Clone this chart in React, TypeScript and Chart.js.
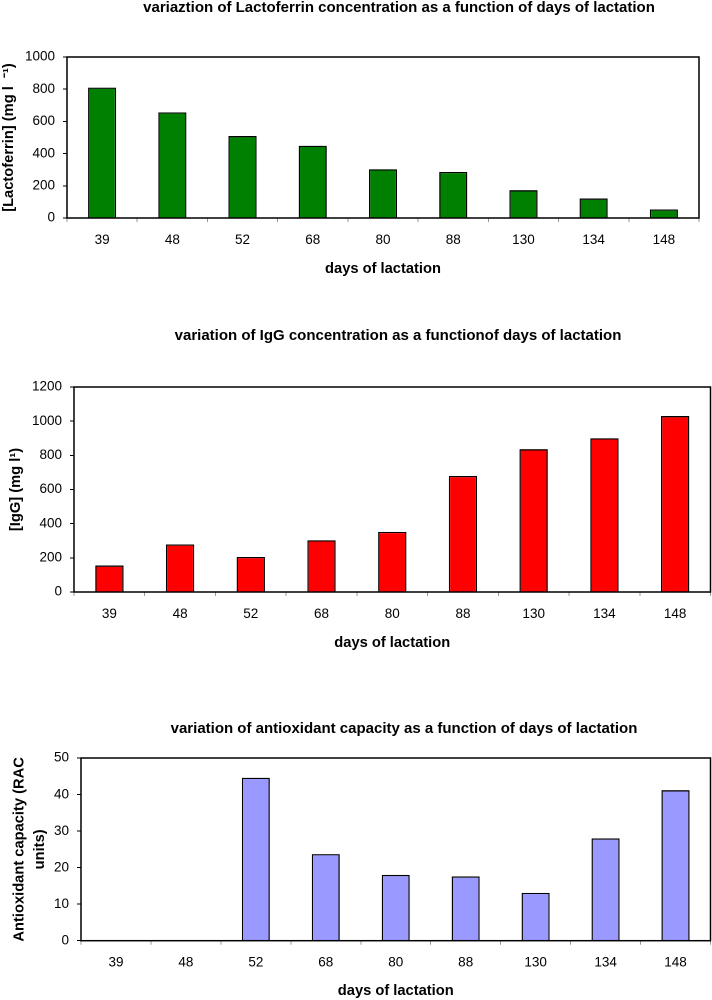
import React, { useEffect, useRef } from "react";
import { Chart, registerables } from "chart.js";

Chart.register(...registerables);

const days = ["39", "48", "52", "68", "80", "88", "130", "134", "148"];
const lactoferrin = [810, 656, 509, 449, 303, 286, 173, 121, 53];
const igg = [155, 278, 205, 303, 352, 679, 836, 900, 1030];
const antioxidant = [0, 0, 44.6, 23.7, 18.0, 17.6, 13.1, 28.0, 41.2];

const FONT = "'Liberation Sans', Arial, Helvetica, sans-serif";

type Cfg = {
  values: number[];
  color: string;
  max: number;
  step: number;
  title: string;
  titleX: number;
  titleY: number;
  yTitle: string | string[];
  yTitlePad: number;
  yTitleLineHeight: number;
  yAxisWidth: number;
  padTop: number;
  padRight: number;
  xAxisHeight: number;
  xTitlePadBottom: number;
  top: number;
  height: number;
};

const framePlugin = {
  id: "frame",
  afterDatasetsDraw(chart: any) {
    const { ctx, chartArea: a } = chart;
    ctx.save();
    ctx.strokeStyle = "#000";
    ctx.lineWidth = 1.5;
    ctx.strokeRect(a.left, a.top, a.right - a.left, a.bottom - a.top);
    ctx.restore();
  },
};

const titlePlugin = {
  id: "placedTitle",
  afterDraw(chart: any, _args: any, opts: any) {
    const { ctx } = chart;
    ctx.save();
    ctx.font = `bold 15px ${FONT}`;
    ctx.fillStyle = "#000";
    ctx.textAlign = "center";
    ctx.textBaseline = "middle";
    ctx.fillText(opts.text, opts.x, opts.y);
    ctx.restore();
  },
};

function BarPanel({ cfg }: { cfg: Cfg }) {
  const ref = useRef<HTMLCanvasElement | null>(null);
  useEffect(() => {
    if (!ref.current) return;
    const chart = new Chart(ref.current, {
      type: "bar",
      data: {
        labels: days,
        datasets: [
          {
            data: cfg.values,
            backgroundColor: cfg.color,
            borderColor: "#000",
            borderWidth: 1.3,
            categoryPercentage: 1,
            barPercentage: 0.4,
          },
        ],
      },
      plugins: [framePlugin, titlePlugin],
      options: {
        animation: false,
        responsive: false,
        devicePixelRatio: 2,
        layout: { padding: { top: cfg.padTop, right: cfg.padRight, left: 0, bottom: 0 } },
        plugins: {
          legend: { display: false },
          tooltip: { enabled: false },
          placedTitle: { text: cfg.title, x: cfg.titleX, y: cfg.titleY },
        } as any,
        scales: {
          x: {
            ticks: { color: "#000", font: { size: 13.5, family: FONT }, padding: 10 },
            grid: { display: true, drawOnChartArea: false, tickLength: 4, color: "#999", offset: true },
            border: { display: false },
            title: {
              display: true,
              text: "days of lactation",
              color: "#000",
              font: { size: 14.7, weight: "bold", family: FONT },
              padding: { top: 0, bottom: cfg.xTitlePadBottom },
            },
            afterFit(scale: any) {
              scale.height = cfg.xAxisHeight;
            },
          },
          y: {
            min: 0,
            max: cfg.max,
            ticks: {
              stepSize: cfg.step,
              color: "#000",
              font: { size: 13.5, family: FONT },
              padding: 8,
              callback: (v: any) => String(v),
            },
            grid: { display: true, drawOnChartArea: false, tickLength: 4, color: "#000" },
            border: { display: false },
            title: {
              display: true,
              text: cfg.yTitle,
              color: "#000",
              font: { size: 14.7, weight: "bold", family: FONT, lineHeight: cfg.yTitleLineHeight },
              padding: { top: cfg.yTitlePad, bottom: 0 },
            },
            afterFit(scale: any) {
              scale.width = cfg.yAxisWidth;
            },
          },
        },
      } as any,
    });
    return () => chart.destroy();
  }, [cfg]);
  return (
    <canvas
      ref={ref}
      width={712}
      height={cfg.height}
      style={{ position: "absolute", left: 0, top: cfg.top, width: 712, height: cfg.height }}
    />
  );
}

const charts: Cfg[] = [
  {
    values: lactoferrin,
    color: "#008000",
    max: 1000,
    step: 200,
    title: "variaztion of Lactoferrin concentration as a function of days of lactation",
    titleX: 399,
    titleY: 8,
    yTitle: "[Lactoferrin] (mg l  \u207B\u00B9)",
    yTitlePad: 0,
    yTitleLineHeight: 1.2,
    yAxisWidth: 67,
    padTop: 57,
    padRight: 13,
    xAxisHeight: 72,
    xTitlePadBottom: 12,
    top: 0,
    height: 290,
  },
  {
    values: igg,
    color: "#FF0000",
    max: 1200,
    step: 200,
    title: "variation of IgG concentration as a functionof days of lactation",
    titleX: 398,
    titleY: 36,
    yTitle: "[IgG] (mg l\u00B9)",
    yTitlePad: 7,
    yTitleLineHeight: 1.2,
    yAxisWidth: 74,
    padTop: 87,
    padRight: 1.5,
    xAxisHeight: 72,
    xTitlePadBottom: 12,
    top: 300,
    height: 364,
  },
  {
    values: antioxidant,
    color: "#9999FF",
    max: 50,
    step: 10,
    title: "variation of antioxidant capacity as a function of days of lactation",
    titleX: 404,
    titleY: 49,
    yTitle: ["Antioxidant capacity (RAC", "units)"],
    yTitlePad: 9,
    yTitleLineHeight: 1.4,
    yAxisWidth: 81,
    padTop: 78,
    padRight: 1.5,
    xAxisHeight: 59.3,
    xTitlePadBottom: 0,
    top: 680,
    height: 320,
  },
];

export default function App() {
  return (
    <div style={{ position: "absolute", left: 0, top: 0, width: 712, height: 1000, background: "#fff", overflow: "hidden" }}>
      {charts.map((c, i) => (
        <BarPanel key={i} cfg={c} />
      ))}
    </div>
  );
}
